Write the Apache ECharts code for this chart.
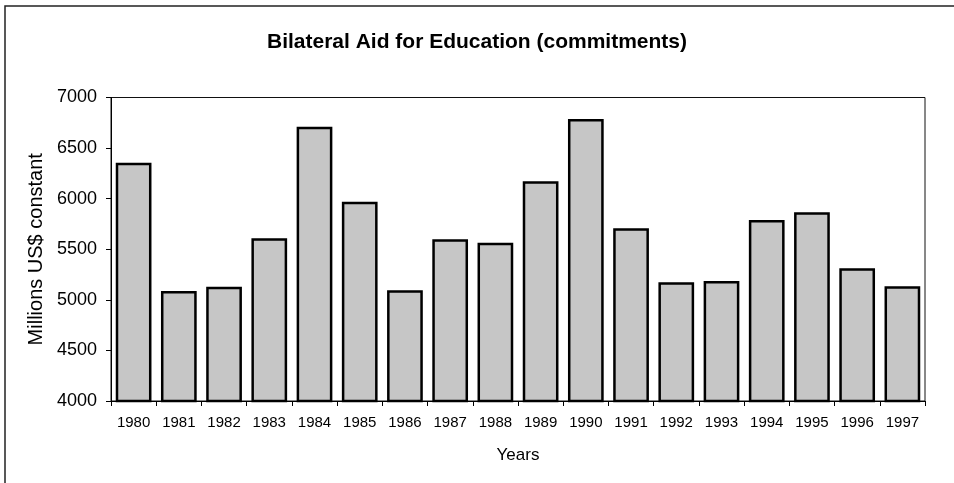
<!DOCTYPE html>
<html>
<head>
<meta charset="utf-8">
<script src="https://cdn.jsdelivr.net/npm/echarts@6/dist/echarts.min.js"></script>
<style>
  html, body { margin: 0; padding: 0; background: #fff; }
  #chart { width: 954px; height: 483px; }
</style>
</head>
<body>
<div id="chart"></div>
<script>
const years = ["1980", "1981", "1982", "1983", "1984", "1985", "1986", "1987", "1988",
  "1989", "1990", "1991", "1992", "1993", "1994", "1995", "1996", "1997"];
const commitments = [6355, 5088, 5130, 5608, 6712, 5970, 5094, 5598, 5565,
  6172, 6788, 5707, 5173, 5186, 5789, 5865, 5312, 5134];

const font = "'Liberation Sans', Arial, sans-serif";

const chart = echarts.init(document.getElementById("chart"), null, { renderer: "canvas" });

chart.setOption({
  animation: false,
  backgroundColor: "#fff",
  title: {
    text: "Bilateral Aid for Education (commitments)",
    left: "center",
    top: 27,
    textStyle: { fontFamily: font, fontWeight: "bold", fontSize: 21, color: "#000" },
  },
  graphic: [
    {
      type: "rect",
      shape: { x: 5, y: 6, width: 980, height: 520 },
      style: { fill: "none", stroke: "#222", lineWidth: 1.5 },
      silent: true,
    },
  ],
  grid: {
    left: 111,
    right: 29,
    top: 97.5,
    bottom: 82,
    show: true,
    borderColor: "#111",
    borderWidth: 1,
    containLabel: false,
  },
  xAxis: {
    type: "category",
    data: years,
    name: "Years",
    nameLocation: "middle",
    nameGap: 46,
    nameTextStyle: { fontFamily: font, fontSize: 17, color: "#000" },
    axisLine: { lineStyle: { color: "#000", width: 1 } },
    axisTick: { show: true, length: 5, lineStyle: { color: "#000" } },
    axisLabel: { fontFamily: font, fontSize: 15, color: "#000", margin: 14, interval: 0 },
  },
  yAxis: {
    type: "value",
    min: 4000,
    max: 7000,
    interval: 500,
    name: "Millions US$ constant",
    nameLocation: "middle",
    nameRotate: 90,
    nameGap: 63,
    nameTextStyle: { fontFamily: font, fontSize: 20, color: "#000" },
    axisLine: { show: true, lineStyle: { color: "#000", width: 1 } },
    axisTick: { show: true, length: 5, lineStyle: { color: "#000" } },
    axisLabel: {
      fontFamily: font, fontSize: 18, color: "#000", margin: 14,
      formatter: (v) => String(v),
    },
    splitLine: { show: false },
  },
  series: [
    {
      type: "bar",
      data: commitments,
      barCategoryGap: "21%",
      itemStyle: { color: "#c6c6c6", borderColor: "#000", borderWidth: 2.5 },
    },
  ],
});
</script>
</body>
</html>
